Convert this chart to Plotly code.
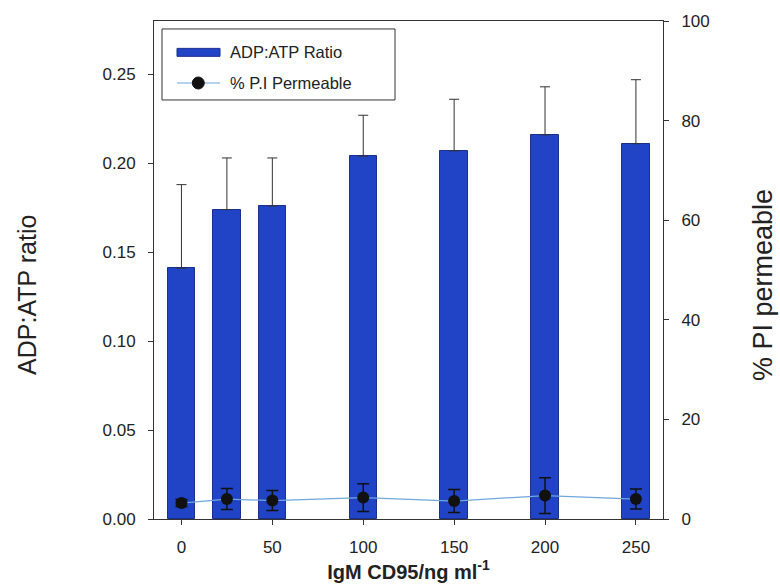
import plotly.graph_objects as go

# IgM CD95 dose (ng/ml)
dose = [0, 25, 50, 100, 150, 200, 250]

# ADP:ATP ratio (mean and upper SD)
adp_atp = [0.141, 0.174, 0.176, 0.204, 0.207, 0.216, 0.211]
adp_atp_err = [0.047, 0.029, 0.027, 0.023, 0.029, 0.027, 0.036]

# Percentage of propidium iodide permeable cells
pi_perm = [3.2, 4.0, 3.7, 4.3, 3.6, 4.7, 4.0]
pi_perm_err = [0.7, 2.1, 2.0, 2.8, 2.3, 3.6, 2.0]

x_ticks = [0, 50, 100, 150, 200, 250]
left_ticks = [0.0, 0.05, 0.10, 0.15, 0.20, 0.25]
right_ticks = [0, 20, 40, 60, 80, 100]

legend_labels = ["ADP:ATP Ratio", "% P.I Permeable"]
left_title = "ADP:ATP ratio"
right_title = "% PI permeable"
x_title = "<b>IgM CD95/ng ml<sup>-1</sup></b>"

FONT = "Liberation Sans, Arial, sans-serif"
TEXT = "#222222"
AXIS = "#333333"
BAR_BLUE = "#2143c6"
BAR_EDGE = "#1a2f8f"
LINE_BLUE = "#6fa8dc"
MARKER = "#111111"

fig = go.Figure()

fig.add_trace(go.Bar(
    x=dose, y=adp_atp, width=15,
    name=legend_labels[0], showlegend=False,
    marker=dict(color=BAR_BLUE, line=dict(color=BAR_EDGE, width=1)),
    error_y=dict(type="data", array=adp_atp_err, arrayminus=[0] * len(dose),
                 symmetric=False, color=AXIS, thickness=1, width=5),
    yaxis="y",
))

fig.add_trace(go.Scatter(
    x=dose, y=pi_perm, mode="lines+markers",
    name=legend_labels[1], showlegend=False,
    line=dict(color=LINE_BLUE, width=1.2),
    marker=dict(color=MARKER, size=12),
    error_y=dict(type="data", array=pi_perm_err, color=MARKER,
                 thickness=1.5, width=6),
    yaxis="y2",
))

axis_common = dict(
    showgrid=False, zeroline=False, showline=True, linecolor=AXIS,
    linewidth=1, ticks="outside", ticklen=5, tickcolor=AXIS,
    tickfont=dict(family=FONT, size=17, color=TEXT),
)

# Boxed key in the upper-left corner of the plot area
shapes = [
    dict(type="rect", xref="paper", yref="paper",
         x0=0.0157, x1=0.4735, y0=0.8414, y1=0.984,
         line=dict(color=AXIS, width=1), fillcolor="white", layer="above"),
    dict(type="rect", xref="paper", yref="paper",
         x0=0.0452, x1=0.1297, y0=0.9290, y1=0.9450,
         line=dict(color=BAR_EDGE, width=1), fillcolor=BAR_BLUE, layer="above"),
    dict(type="line", xref="paper", yref="paper",
         x0=0.0452, x1=0.1297, y0=0.8755, y1=0.8755,
         line=dict(color=LINE_BLUE, width=1.2), layer="above"),
    dict(type="circle", xref="paper", yref="paper",
         xsizemode="pixel", ysizemode="pixel",
         xanchor=0.0870, yanchor=0.8755, x0=-6, x1=6, y0=-6, y1=6,
         line=dict(color=MARKER, width=1), fillcolor=MARKER, layer="above"),
]
annotations = [
    dict(text=legend_labels[0], xref="paper", yref="paper",
         x=0.1454, y=0.9370, xanchor="left", yanchor="middle",
         showarrow=False, font=dict(family=FONT, size=16.5, color=TEXT)),
    dict(text=legend_labels[1], xref="paper", yref="paper",
         x=0.1454, y=0.8755, xanchor="left", yanchor="middle",
         showarrow=False, font=dict(family=FONT, size=16.5, color=TEXT)),
    # Axis titles for both value axes
    dict(text=left_title, xref="paper", yref="paper",
         x=-0.2495, y=0.450, xanchor="center", yanchor="middle",
         textangle=-90, showarrow=False,
         font=dict(family=FONT, size=25, color=TEXT)),
    dict(text=right_title, xref="paper", yref="paper",
         x=1.1965, y=0.470, xanchor="center", yanchor="middle",
         textangle=-90, showarrow=False,
         font=dict(family=FONT, size=27, color=TEXT)),
]

fig.update_layout(
    width=780, height=587,
    margin=dict(l=154, r=117, t=21, b=68),
    paper_bgcolor="white", plot_bgcolor="white",
    font=dict(family=FONT, color=TEXT),
    showlegend=False,
    shapes=shapes, annotations=annotations,
    xaxis=dict(
        range=[-15.1, 264.9], tickvals=x_ticks,
        mirror=True, ticklabelstandoff=8,
        title=dict(text=x_title,
                   font=dict(family=FONT, size=20, color=TEXT),
                   standoff=3),
        **axis_common,
    ),
    yaxis=dict(
        range=[0, 0.28], tickvals=left_ticks, tickformat=".2f",
        ticklabelstandoff=9,
        **axis_common,
    ),
    yaxis2=dict(
        range=[0, 100], tickvals=right_ticks, overlaying="y", side="right",
        ticklabelstandoff=9,
        **axis_common,
    ),
    bargap=0,
)

fig.write_html("out.html")
